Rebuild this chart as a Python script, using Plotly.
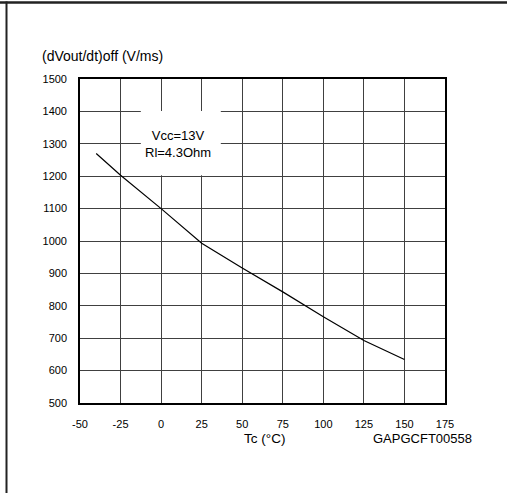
import plotly.graph_objects as go

tc = [-40, -25, 0, 25, 50, 75, 100, 125, 150]
dvdt = [1270, 1203, 1100, 993, 917, 843, 766, 693, 634]
x_ticks = [-50, -25, 0, 25, 50, 75, 100, 125, 150, 175]
y_ticks = [500, 600, 700, 800, 900, 1000, 1100, 1200, 1300, 1400, 1500]

W, H = 507, 493
L, R, T, B = 80, 445, 79, 403

def px(x):
    return (x - L) / (R - L)

def py(y):
    return (B - y) / (B - T)

fig = go.Figure()
fig.add_trace(go.Scatter(x=tc, y=dvdt, mode="lines",
                         line=dict(color="black", width=1.2), showlegend=False))

font = "Liberation Sans, Arial, sans-serif"
fig.update_layout(
    width=W, height=H,
    margin=dict(l=L, r=W - R, t=T, b=H - B, pad=0),
    paper_bgcolor="white", plot_bgcolor="white",
    font=dict(family=font, size=11, color="black"),
    xaxis=dict(range=[-50, 175], tickvals=x_ticks, ticktext=[str(v) for v in x_ticks],
               showgrid=True, gridcolor="#404040", gridwidth=1,
               showline=True, linecolor="black", linewidth=1.6, mirror=True,
               ticks="", ticklen=0, zeroline=False, tickfont=dict(size=11),
               ticklabelstandoff=10),
    yaxis=dict(range=[500, 1500], tickvals=y_ticks, ticktext=[str(v) for v in y_ticks],
               showgrid=True, gridcolor="#404040", gridwidth=1,
               showline=True, linecolor="black", linewidth=1.6, mirror=True,
               ticks="", ticklen=0, zeroline=False, tickfont=dict(size=11),
               ticklabelstandoff=9),
)

fig.add_shape(type="rect", xref="x", yref="y", x0=-12.5, x1=36.8, y0=1203, y1=1401,
              fillcolor="white", line=dict(width=0), layer="between")

fig.add_annotation(x=10.5, y=1300, xref="x", yref="y", text="Vcc=13V<br>Rl=4.3Ohm",
                   showarrow=False, font=dict(size=13, family=font), align="center")

fig.add_annotation(x=px(40), y=py(56), xref="paper", yref="paper", text="(dVout/dt)off (V/ms)",
                   showarrow=False, xanchor="left", yanchor="middle", font=dict(size=14, family=font))
fig.add_annotation(x=px(264), y=py(438), xref="paper", yref="paper", text="Tc (°C)",
                   showarrow=False, xanchor="center", yanchor="middle", font=dict(size=13.5, family=font))
fig.add_annotation(x=px(422), y=py(438), xref="paper", yref="paper", text="GAPGCFT00558",
                   showarrow=False, xanchor="center", yanchor="middle", font=dict(size=13, family=font))

# page frame lines
fig.add_shape(type="line", xref="paper", yref="paper", x0=px(0), x1=px(W), y0=py(2.5), y1=py(2.5),
              line=dict(color="#222", width=2.5), layer="above")
fig.add_shape(type="line", xref="paper", yref="paper", x0=px(6.5), x1=px(6.5), y0=py(1.5), y1=py(H),
              line=dict(color="#222", width=2), layer="above")

fig.write_html("out.html", config={"displayModeBar": False},
               post_script="document.body.style.margin='0';document.body.style.padding='0';")
